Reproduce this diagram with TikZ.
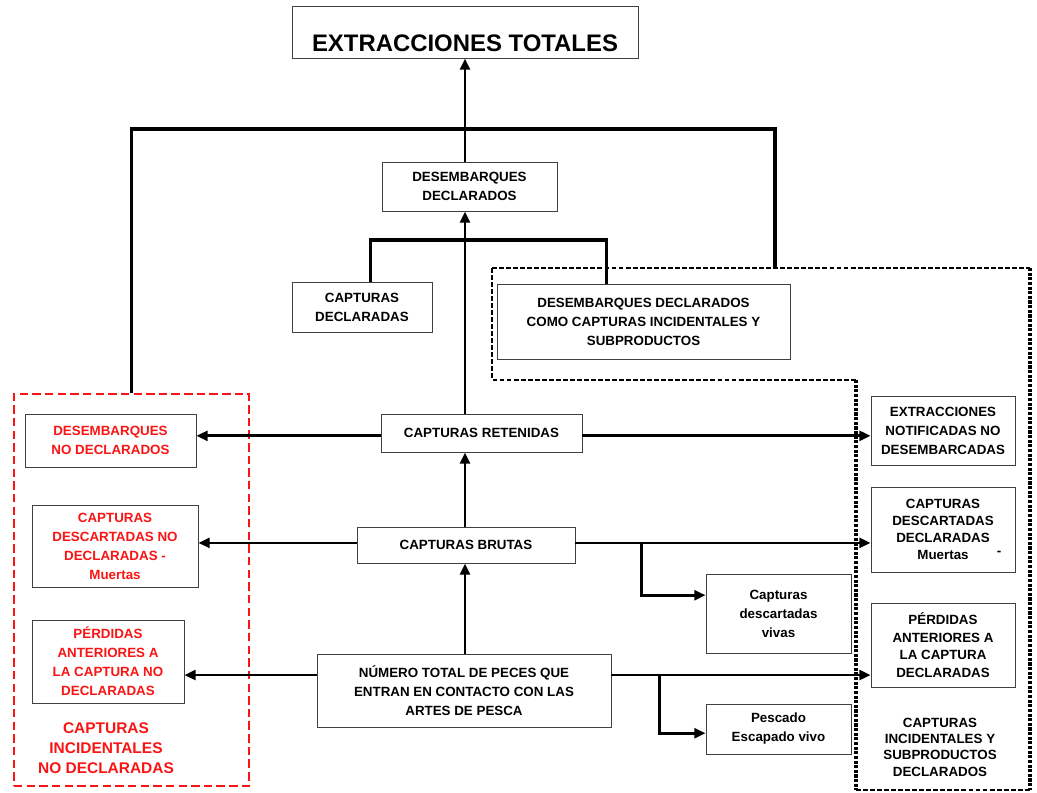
\documentclass[tikz,border=0pt]{standalone}
\usepackage{fontspec}
\setmainfont{Liberation Sans}
\usetikzlibrary{arrows.meta,positioning,calc}
\definecolor{alert}{RGB}{250,20,20}

\begin{document}
\begin{tikzpicture}[x=0.025cm,y=-0.025cm,
    box/.style 2 args={draw=black!75,line width=0.6pt,fill=white,align=center,inner sep=1pt,
      font=\bfseries\fontsize{9.5}{13.5}\selectfont,
      minimum width=#1*0.025cm,minimum height=#2*0.025cm},
    flow/.style={line width=2pt,-{Triangle[length=8pt,width=7pt]}},
    link/.style={line width=2.2pt},
    nodecl/.style={draw=alert,line width=2.1pt,dash pattern=on 6pt off 3pt},
    decl/.style={line width=1.3pt,dash pattern=on 3.5pt off 1.5pt}]
  \useasboundingbox (0,0) rectangle (1037,792);
  \coordinate (spine) at (465,0);

  % no declarado (rojo)
  \node[nodecl,minimum width=235*0.025cm,minimum height=392*0.025cm] (noDecl) at (131.5,590) {};
  \node[text=alert,align=center,font=\bfseries\fontsize{11}{14.2}\selectfont] (noDeclTxt) at (106,748)
    {CAPTURAS\\INCIDENTALES\\NO DECLARADAS};

  % declarado (negro)
  \draw[decl] (492,268) -- (1030,268);
  \draw[decl] (492,268) -- (492,380) -- (856,380);
  \draw[decl,line width=2.2pt,dash pattern=on 2.2pt off 1.1pt] (856,380) -- (856,790);
  \draw[decl,line width=2.2pt,dash pattern=on 2.2pt off 1.1pt] (1030,268) -- (1030,790);
  \draw[decl] (856,790) -- (1030,790);
  \coordinate (declTop) at (775,268);
  \node[align=center,font=\bfseries\fontsize{9.5}{11.6}\selectfont] (declTxt) at (940,747)
    {CAPTURAS\\INCIDENTALES Y\\SUBPRODUCTOS\\DECLARADOS};

  % cajas
  \node[box={346}{52},font=\bfseries\fontsize{17}{20}\selectfont,text height=28pt,text depth=0pt] (total) at (465,32) {EXTRACCIONES TOTALES};
  \node[box={175}{49}] (desDecl) at (469.5,186.5) {DESEMBARQUES\\DECLARADOS};
  \node[box={140}{50}] (capDecl) at (362,307) {CAPTURAS\\DECLARADAS};
  \node[box={293}{75}] (desInc) at (643.5,321.5) {DESEMBARQUES DECLARADOS\\COMO CAPTURAS INCIDENTALES Y\\SUBPRODUCTOS};
  \node[box={201}{38}] (retenidas) at (481.5,433) {CAPTURAS RETENIDAS};
  \node[box={218}{36}] (brutas) at (466,545) {CAPTURAS BRUTAS};
  \node[box={294}{73}] (total peces) at (464,690.5) {NÚMERO TOTAL DE PECES QUE\\ENTRAN EN CONTACTO CON LAS\\ARTES DE PESCA};
  \node[box={145}{79}] (descVivas) at (778.5,613.5) {Capturas\\descartadas\\vivas};
  \node[box={145}{50}] (escVivo) at (778.5,729) {Pescado\\Escapado vivo};

  \node[box={171}{53},text=alert,text depth=-3pt] (desNoDecl) at (110.5,440.5) {DESEMBARQUES\\NO DECLARADOS};
  \node[box={166}{82},text=alert] (descNoDecl) at (115,546) {CAPTURAS\\DESCARTADAS NO\\DECLARADAS -\\Muertas};
  \node[box={152}{83},text=alert] (perdNoDecl) at (108,661.5) {PÉRDIDAS\\ANTERIORES A\\LA CAPTURA NO\\DECLARADAS};

  \node[box={144}{69}] (extrNotif) at (943,430.5) {EXTRACCIONES\\NOTIFICADAS NO\\DESEMBARCADAS};
  \node[box={144}{85},font=\bfseries\fontsize{9.5}{12}\selectfont] (descDecl) at (943,529.5)
    {CAPTURAS\\DESCARTADAS\\DECLARADAS\\Muertas\rlap{\hspace{20pt}\raisebox{3pt}{-}}};
  \node[box={144}{84},font=\bfseries\fontsize{9.5}{12.6}\selectfont] (perdDecl) at (943,645) {PÉRDIDAS\\ANTERIORES A\\LA CAPTURA\\DECLARADAS};

  % conectores
  \draw[link] (noDecl.north) |- (spine |- 0,129) -| (declTop);
  \draw[flow] (desDecl.north -| spine) -- (total.south -| spine);
  \draw[link] ([xshift=6pt]capDecl.north) |- ([xshift=-26pt]desInc.north |- 0,240) -- ([xshift=-26pt]desInc.north);
  \draw[flow] (retenidas.north -| spine) -- (desDecl.south -| spine);
  \draw[flow] (brutas.north -| spine) -- (retenidas.south -| spine);
  \draw[flow] (total peces.north -| spine) -- (brutas.south -| spine);

  \draw[flow] ([yshift=-2pt]retenidas.west) -- ([yshift=-2pt]desNoDecl.east |- retenidas.west);
  \draw[flow] ([yshift=-2pt]retenidas.east) -- ([yshift=-2pt]extrNotif.west |- retenidas.east);
  \draw[flow] ([yshift=1.5pt]brutas.west) -- ([yshift=1.5pt]descNoDecl.east |- brutas.west);
  \draw[flow] ([yshift=1.5pt]brutas.east) -- ([yshift=1.5pt]descDecl.west |- brutas.east);
  \draw[flow] ([yshift=1.5pt]brutas.east) ++(66,0) |- ([yshift=13pt]descVivas.west);
  \draw[flow] ([yshift=11pt]total peces.west) -- ([yshift=11pt]perdNoDecl.east |- total peces.west);
  \draw[flow] ([yshift=11pt]total peces.east) -- ([yshift=11pt]perdDecl.west |- total peces.east);
  \draw[flow] ([yshift=11pt]total peces.east) ++(48,0) |- ([yshift=-3pt]escVivo.west);
\end{tikzpicture}
\end{document}
